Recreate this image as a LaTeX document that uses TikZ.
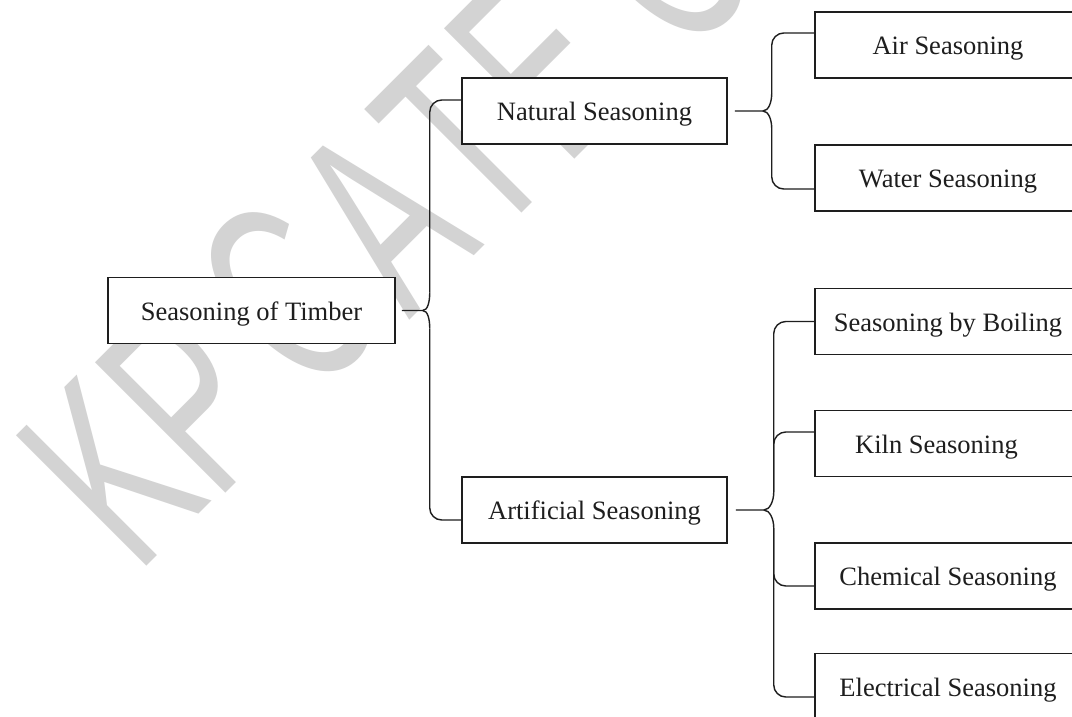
\documentclass[tikz,border=0pt]{standalone}
\usepackage{fontspec}
\setmainfont{Liberation Serif}
\newfontfamily\wmfont{Liberation Sans}
\usetikzlibrary{calc}
\definecolor{ink}{HTML}{1E1E1E}
\definecolor{wmgray}{HTML}{D3D3D3}
\begin{document}
\begin{tikzpicture}[x=1pt,y=-1pt,
  box/.style={draw=ink, line width=1.5pt, fill=white, minimum width=266pt,
    minimum height=66pt, inner sep=0pt, text=ink, text height=19pt, text depth=0pt,
    font=\fontsize{26.5}{30}\selectfont},
  conn/.style={draw=ink, line width=1.4pt},
  wm/.style={text=wmgray, inner sep=0pt, rotate=45, xscale=0.6,
    font=\wmfont\fontsize{268}{268}\selectfont}]
\useasboundingbox (0,0) rectangle (1072,716);
\clip (0,0) rectangle (1072,716);
\fill[white] (0,0) rectangle (1072,716);

% watermark
\node[wm] (wk) at (110,472) {K};
\node[wm] (wp) at (189,399) {P};
\node[wm] (wc) at (288,295) {C};
\node[wm] (wa) at (382,217) {A};
\node[wm] (wt) at (462,143) {T};
\node[wm] (we) at (538,65) {E};
\node[wm] (wc2) at (660,-45) {C};

% boxes
\node[box, minimum width=287pt] (tim) at (251.5,310.5) {Seasoning of Timber};
\node[box, minimum width=265pt] (nat) at (594.5,111) {Natural Seasoning};
\node[box, minimum width=265pt] (art) at (594.5,510) {Artificial Seasoning};
\node[box] (air) at (948,45) {Air Seasoning};
\node[box] (wat) at (948,178) {Water Seasoning};
\node[box] (boi) at (948,321.5) {Seasoning by Boiling};
\node[box] (kil) at (948,443.5) {Kiln Seasoning\hspace*{23pt}};
\node[box] (che) at (948,576) {Chemical Seasoning};
\node[box] (ele) at (948,686.5) {Electrical Seasoning};

% brace from Seasoning of Timber
\coordinate (t0) at ($(tim.east)+(27,0)$);
\coordinate (t0u) at ($(t0)+(7,-18)$);
\coordinate (t0d) at ($(t0)+(7,18)$);
\draw[conn] ($(tim.east)+(6,0)$) -- (t0) .. controls +(5,0) and +(0,9) .. (t0u);
\draw[conn] (t0) .. controls +(5,0) and +(0,-9) .. (t0d);
\draw[conn, rounded corners=12pt] (t0u) |- ($(nat.west)+(0,-11)$);
\draw[conn, rounded corners=12pt] (t0d) |- ($(art.west)+(0,10)$);

% brace from Natural Seasoning
\coordinate (n0) at ($(nat.east)+(35,0)$);
\coordinate (n0u) at ($(n0)+(9,-18)$);
\coordinate (n0d) at ($(n0)+(9,18)$);
\draw[conn] ($(nat.east)+(7,0)$) -- (n0) .. controls +(6,0) and +(0,9) .. (n0u);
\draw[conn] (n0) .. controls +(6,0) and +(0,-9) .. (n0d);
\draw[conn, rounded corners=12pt] (n0u) |- ($(air.west)+(0,-12)$);
\draw[conn, rounded corners=12pt] (n0d) |- ($(wat.west)+(0,11)$);

% brace from Artificial Seasoning
\coordinate (a0) at ($(art.east)+(36,0)$);
\coordinate (a0u) at ($(a0)+(10,-18)$);
\coordinate (a0d) at ($(a0)+(10,18)$);
\draw[conn] ($(art.east)+(8,0)$) -- (a0) .. controls +(6,0) and +(0,9) .. (a0u);
\draw[conn] (a0) .. controls +(6,0) and +(0,-9) .. (a0d);
\draw[conn, rounded corners=12pt] (a0u) |- (boi.west);
\draw[conn, rounded corners=12pt] (a0u) |- ($(kil.west)+(0,-11.5)$);
\draw[conn, rounded corners=12pt] (a0d) |- ($(che.west)+(0,10)$);
\draw[conn, rounded corners=12pt] (a0d) |- ($(ele.west)+(0,10.5)$);
\end{tikzpicture}
\end{document}
